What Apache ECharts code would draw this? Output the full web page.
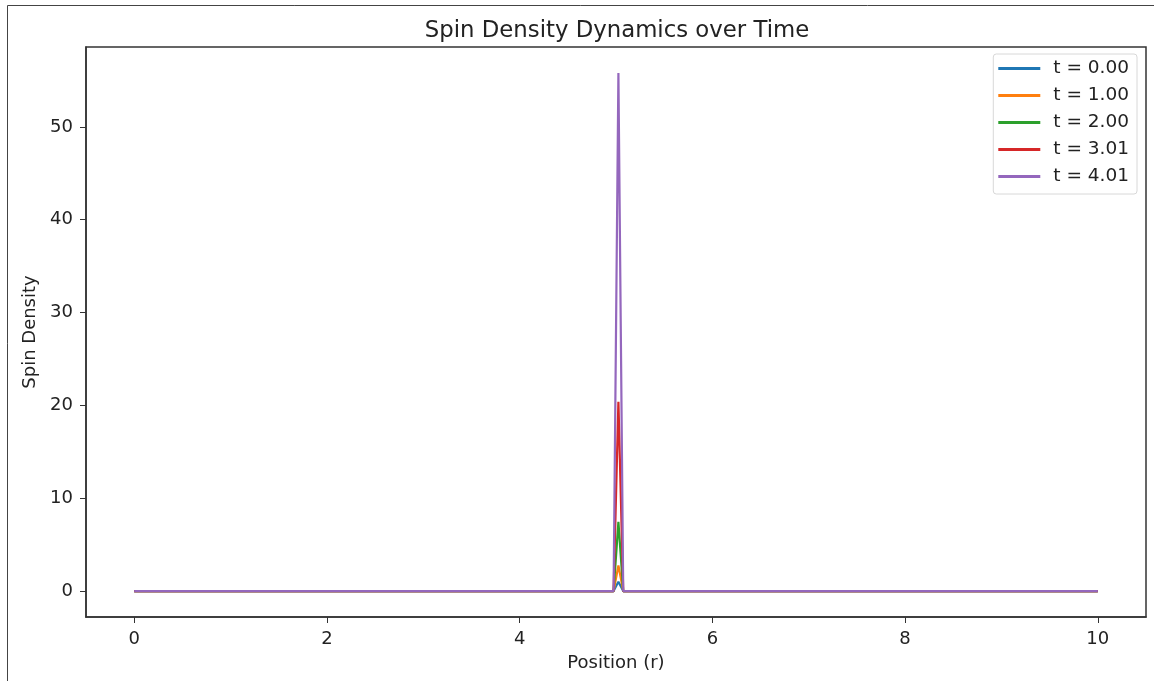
<!DOCTYPE html>
<html>
<head>
<meta charset="utf-8">
<script src="https://cdn.jsdelivr.net/npm/echarts@6/dist/echarts.min.js"></script>
<style>
  html, body { margin: 0; padding: 0; background: #fff; }
  #chart { width: 1154px; height: 681px; }
</style>
</head>
<body>
<div id="chart"></div>
<script>
// grid positions (r) around the spike, values are zero elsewhere
var positions = [0, 4.975, 5.025, 5.075, 10];
var seriesNames = ["t = 0.00", "t = 1.00", "t = 2.00", "t = 3.01", "t = 4.01"];
var density0 = [0, 0, 1.0, 0, 0];
var density1 = [0, 0, 2.75, 0, 0];
var density2 = [0, 0, 7.45, 0, 0];
var density3 = [0, 0, 20.4, 0, 0];
var density4 = [0, 0, 55.8, 0, 0];
var colors = ["#1f77b4", "#ff7f0e", "#2ca02c", "#d62728", "#9467bd"];
var xTicks = [0, 2, 4, 6, 8, 10];
var yTicks = [0, 10, 20, 30, 40, 50];

var allDensity = [density0, density1, density2, density3, density4];

var myChart = echarts.init(document.getElementById("chart"));
var font = "DejaVu Sans";

var series = allDensity.map(function (vals, i) {
  return {
    name: seriesNames[i],
    type: "line",
    showSymbol: false,
    symbol: "none",
    animation: false,
    lineStyle: { width: 2.2, color: colors[i] },
    itemStyle: { color: colors[i] },
    data: positions.map(function (x, j) { return [x, vals[j]]; })
  };
});

myChart.setOption({
  backgroundColor: "#fff",
  animation: false,
  title: {
    text: "Spin Density Dynamics over Time",
    left: 612,
    textAlign: "center",
    top: 15,
    textStyle: { fontFamily: font, fontSize: 22.8, fontWeight: "normal", color: "#222" }
  },
  legend: {
    data: seriesNames,
    orient: "vertical",
    right: 17,
    top: 54,
    itemWidth: 42,
    itemHeight: 3,
    itemGap: 8,
    icon: "rect",
    padding: [5, 8, 8, 5],
    borderColor: "#d8d8d8",
    borderWidth: 1,
    borderRadius: 3,
    textStyle: { fontFamily: font, fontSize: 18.5, lineHeight: 18.5, color: "#222", padding: [0, 0, 0, 8] }
  },
  grid: {
    left: 86,
    right: 8,
    top: 47,
    bottom: 64,
    show: true,
    borderColor: "#333",
    borderWidth: 1.5
  },
  xAxis: {
    type: "value",
    min: -0.5,
    max: 10.5,
    name: "Position (r)",
    nameLocation: "middle",
    nameGap: 37,
    nameTextStyle: { fontFamily: font, fontSize: 18, color: "#222" },
    axisLine: { show: true, onZero: false, lineStyle: { color: "#333", width: 1.5 } },
    axisTick: { show: true, length: 6, customValues: xTicks, lineStyle: { color: "#333" } },
    axisLabel: { customValues: xTicks, fontFamily: font, fontSize: 18, color: "#222", margin: 13 },
    splitLine: { show: false }
  },
  yAxis: {
    type: "value",
    min: -2.79,
    max: 58.6,
    name: "Spin Density",
    nameLocation: "middle",
    nameGap: 47,
    nameTextStyle: { fontFamily: font, fontSize: 18, color: "#222" },
    axisLine: { show: true, onZero: false, lineStyle: { color: "#333", width: 1.5 } },
    axisTick: { show: true, length: 6, customValues: yTicks, lineStyle: { color: "#333" } },
    axisLabel: { customValues: yTicks, fontFamily: font, fontSize: 18, color: "#222", margin: 13 },
    splitLine: { show: false }
  },
  graphic: [
    { type: "line", shape: { x1: 7.5, y1: 5.5, x2: 1154, y2: 5.5 }, style: { stroke: "#444", lineWidth: 1 } },
    { type: "line", shape: { x1: 7.5, y1: 5.5, x2: 7.5, y2: 681 }, style: { stroke: "#444", lineWidth: 1 } }
  ],
  series: series
});
</script>
</body>
</html>
